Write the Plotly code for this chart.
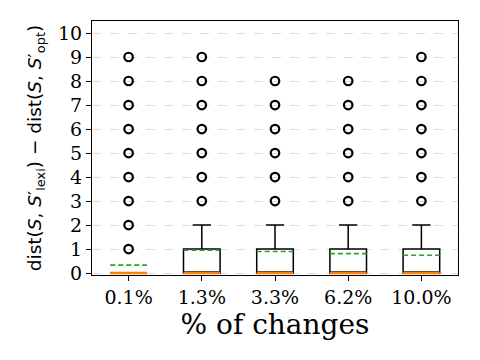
import plotly.graph_objects as go

categories = ["0.1%", "1.3%", "3.3%", "6.2%", "10.0%"]
positions = [1, 2, 3, 4, 5]
q1 = [0, 0, 0, 0, 0]
medians = [0, 0, 0, 0, 0]
q3 = [0, 1, 1, 1, 1]
lower_whisker = [0, 0, 0, 0, 0]
upper_whisker = [0, 2, 2, 2, 2]
means = [0.33, 0.95, 0.90, 0.81, 0.74]
outliers = [
    [1, 2, 3, 4, 5, 6, 7, 8, 9],
    [3, 4, 5, 6, 7, 8, 9],
    [3, 4, 5, 6, 7, 8],
    [3, 4, 5, 6, 7, 8],
    [3, 4, 5, 6, 7, 8, 9],
]
y_ticks = list(range(0, 11))

BOX_W = 0.5

fig = go.Figure()

fig.add_trace(go.Box(
    x=positions, q1=q1, median=medians, q3=q3,
    lowerfence=lower_whisker, upperfence=upper_whisker,
    width=BOX_W, whiskerwidth=0.5,
    line=dict(color="black", width=1.5),
    fillcolor="rgba(0,0,0,0)", boxpoints=False, showlegend=False,
    hoverinfo="skip",
))

# median lines
mx, my = [], []
for p, m in zip(positions, medians):
    mx += [p - BOX_W / 2, p + BOX_W / 2, None]
    my += [m, m, None]
fig.add_trace(go.Scatter(x=mx, y=my, mode="lines",
                         line=dict(color="#ff7f0e", width=2.5),
                         showlegend=False, hoverinfo="skip", cliponaxis=False))

# mean lines
ax, ay = [], []
for p, m in zip(positions, means):
    ax += [p - BOX_W / 2, p + BOX_W / 2, None]
    ay += [m, m, None]
fig.add_trace(go.Scatter(x=ax, y=ay, mode="lines",
                         line=dict(color="#2ca02c", width=1.6, dash="5px,3px"),
                         showlegend=False, hoverinfo="skip"))

# outliers
ox, oy = [], []
for p, outs in zip(positions, outliers):
    ox += [p] * len(outs)
    oy += outs
fig.add_trace(go.Scatter(x=ox, y=oy, mode="markers",
                         marker=dict(symbol="circle-open", size=8.5, color="black",
                                     line=dict(width=2.2, color="black")),
                         showlegend=False, hoverinfo="skip"))

ytitle = ("dist(<i>S</i>, <i>S</i>′<sub>lexi</sub>) − "
          "dist(<i>S</i>, <i>S</i>′<sub>opt</sub>)")

fig.update_layout(
    width=472, height=352,
    margin=dict(l=84, r=22, t=13, b=85),
    plot_bgcolor="white", paper_bgcolor="white",
    xaxis=dict(
        range=[0.5, 5.5], tickvals=positions, ticktext=categories,
        showgrid=False, zeroline=False,
        showline=True, linecolor="black", linewidth=1.2, mirror=True,
        ticks="outside", ticklen=5, tickcolor="black",
        tickfont=dict(family="DejaVu Serif", size=19, color="black"),
        title=dict(text="% of changes",
                   font=dict(family="DejaVu Serif", size=28, color="black"),
                   standoff=5),
    ),
    yaxis=dict(
        range=[-0.08, 10.5], tickvals=y_ticks,
        showgrid=True, gridcolor="#dcdcdc", gridwidth=0.8, griddash="dash",
        zeroline=False,
        showline=True, linecolor="black", linewidth=1.2, mirror=True,
        ticks="outside", ticklen=5, tickcolor="black",
        tickfont=dict(family="DejaVu Serif", size=19, color="black"),
        title=dict(text=ytitle,
                   font=dict(family="DejaVu Sans", size=18.5, color="black"),
                   standoff=11),
    ),
)

fig.write_html("out.html")
